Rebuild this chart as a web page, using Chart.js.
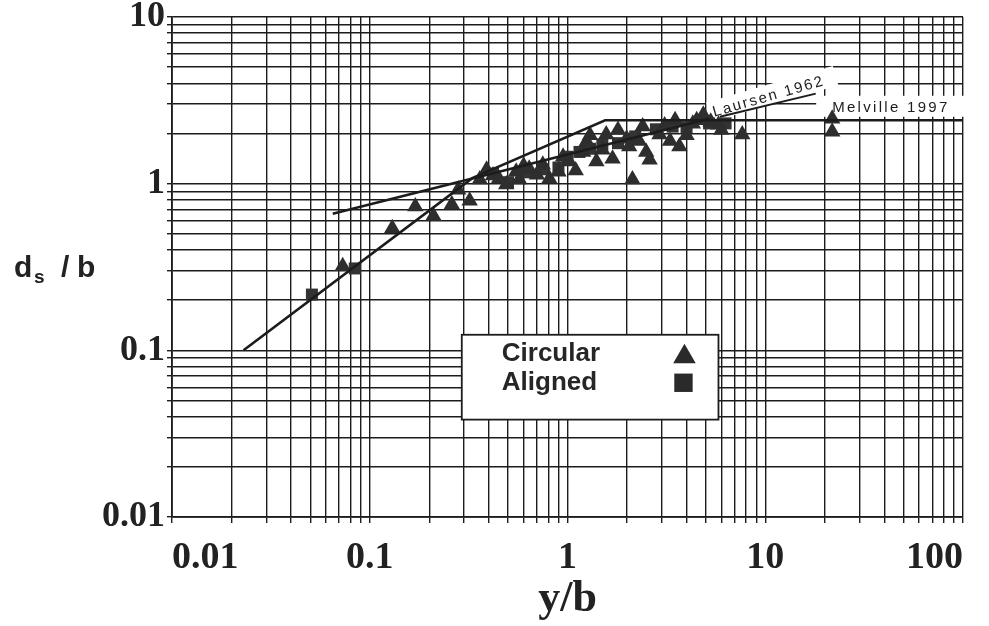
<!DOCTYPE html>
<html>
<head>
<meta charset="utf-8">
<script src="https://cdn.jsdelivr.net/npm/chart.js"></script>
<style>
  html, body { margin: 0; padding: 0; background: #fff; }
  #wrap { width: 989px; height: 626px; }
</style>
</head>
<body>
<div id="wrap"><canvas id="c"></canvas></div>
<script>
// values
const circularX = [0.073, 0.13, 0.17, 0.21, 0.26, 0.32, 0.28, 0.36, 0.39, 0.42, 0.45, 0.49, 0.55, 0.57, 0.6, 0.64, 0.70,
                   0.75, 0.81, 0.9, 0.95, 1.02, 1.1, 1.2, 1.25, 1.3, 1.4, 1.5, 1.57, 1.69, 1.8, 1.99, 2.05, 2.13, 2.3,
                   2.4, 2.5, 2.6, 2.92, 3.1, 3.3, 3.5, 3.68, 4.0, 4.3, 4.5, 4.86, 5.3, 5.8, 6.0, 7.65, 21.8, 21.8];
const circularY = [0.32, 0.54, 0.73, 0.64, 0.75, 0.79, 0.92, 1.06, 1.21, 1.12, 1.07, 0.99, 1.18, 1.06, 1.28, 1.23, 1.13,
                   1.3, 1.07, 1.18, 1.45, 1.36, 1.2, 1.55, 1.79, 1.95, 1.36, 1.6, 1.97, 1.41, 2.1, 1.86, 1.67, 1.06, 1.8,
                   2.2, 1.55, 1.39, 1.97, 2.23, 1.8, 2.4, 1.67, 1.95, 2.29, 2.4, 2.59, 2.35, 2.26, 2.1, 1.97, 2.45, 2.05];
const alignedX = [0.051, 0.084, 0.42, 0.5, 0.62, 0.75, 0.9, 1.0, 1.15, 1.3, 1.5, 1.8, 2.2, 2.8, 3.4, 4.0, 5.2, 6.3];
const alignedY = [0.216, 0.31, 1.15, 1.02, 1.17, 1.22, 1.25, 1.45, 1.55, 1.62, 1.72, 1.75, 1.92, 2.12, 2.2, 2.18, 2.3, 2.3];
const melvilleX = [0.023, 0.33, 1.55, 100];
const melvilleY = [0.1, 1.08, 2.4, 2.4];
const laursenX = [0.065, 5.2];
const laursenY = [0.66, 2.45];
const pointerX = [5.9, 18];
const pointerY = [2.52, 3.47];
const xLabels = [0.01, 0.1, 1, 10, 100];
const yLabels = [0.01, 0.1, 1, 10];

const ink = '#1c1c1c';
const serif = '"Liberation Serif", "Times New Roman", serif';
const sans = '"Liberation Sans", Arial, sans-serif';
const pts = (xs, ys) => xs.map((v, i) => ({ x: v, y: ys[i] }));

// 1..9 x 10^n grid, like printed log paper
function logGrid(min, max) {
  const out = [];
  for (let e = Math.log10(min); e < Math.log10(max); e++) {
    for (let k = 1; k < 10; k++) out.push({ value: k * Math.pow(10, e) });
  }
  out.push({ value: max });
  return out;
}

const overlay = {
  id: 'overlay',
  beforeDatasetsDraw(chart) {
    // white patches under the line labels, as on the scan
    const { ctx, scales: { x, y } } = chart;
    ctx.save();
    ctx.fillStyle = '#fff';
    const mx = x.getPixelForValue(21.8), my = y.getPixelForValue(2.7);
    ctx.fillRect(mx - 16, my - 16, 150, 21);
    ctx.translate(x.getPixelForValue(5.52), y.getPixelForValue(2.52));
    ctx.rotate(-16 * Math.PI / 180);
    ctx.fillRect(-4, -16, 132, 20);
    ctx.restore();
  },
  afterDatasetsDraw(chart) {
    const { ctx, scales: { x, y } } = chart;
    ctx.save();

    // legend box
    const l = x.getPixelForValue(0.292), r = x.getPixelForValue(5.8);
    const t = y.getPixelForValue(0.124), b = y.getPixelForValue(0.0384);
    ctx.fillStyle = '#fff';
    ctx.fillRect(l, t, r - l, b - t);
    ctx.strokeStyle = ink;
    ctx.lineWidth = 1.8;
    ctx.strokeRect(l, t, r - l, b - t);
    ctx.fillStyle = '#262626';
    ctx.font = 'bold 26px ' + sans;
    ctx.textBaseline = 'alphabetic';
    ctx.fillText('Circular', l + 40, t + 26);
    ctx.fillText('Aligned', l + 40, t + 55);
    ctx.fillStyle = '#2a2a2a';
    Chart.helpers.drawPoint(ctx, { pointStyle: 'triangle', radius: 13, rotation: 0, borderWidth: 0 }, r - 34, t + 22);
    Chart.helpers.drawPoint(ctx, { pointStyle: 'rect', radius: 13, rotation: 0, borderWidth: 0 }, r - 35, t + 48);

    // line labels
    ctx.fillStyle = ink;
    ctx.font = '15px ' + sans;
    ctx.letterSpacing = '2.3px';
    ctx.fillText('Melville 1997', x.getPixelForValue(21.8), y.getPixelForValue(2.7));
    ctx.translate(x.getPixelForValue(5.52), y.getPixelForValue(2.52));
    ctx.rotate(-16 * Math.PI / 180);
    ctx.letterSpacing = '2px';
    ctx.fillText('Laursen 1962', 0, 0);
    ctx.restore();

    // y title  d_s / b
    ctx.save();
    ctx.fillStyle = '#222';
    ctx.font = 'bold 30px ' + sans;
    ctx.fillText('d', 14, 277);
    ctx.font = 'bold 19px ' + sans;
    ctx.fillText('s', 34, 283);
    ctx.font = 'bold 30px ' + sans;
    ctx.fillText('/', 61, 277);
    ctx.fillText('b', 77, 277);
    ctx.restore();
  }
};

new Chart(document.getElementById('c'), {
  type: 'scatter',
  data: {
    datasets: [
      {
        label: 'Melville 1997', type: 'line', data: pts(melvilleX, melvilleY),
        borderColor: ink, borderWidth: 2.6, pointRadius: 0, fill: false, tension: 0
      },
      {
        label: 'Laursen 1962', type: 'line', data: pts(laursenX, laursenY),
        borderColor: ink, borderWidth: 2.6, pointRadius: 0, fill: false, tension: 0
      },
      {
        label: 'pointer', type: 'line', data: pts(pointerX, pointerY),
        borderColor: ink, borderWidth: 2, pointRadius: 0, fill: false
      },
      {
        label: 'Circular', data: pts(circularX, circularY),
        pointStyle: 'triangle', pointRadius: 9.5, backgroundColor: '#2e2e2e', borderWidth: 0
      },
      {
        label: 'Aligned', data: pts(alignedX, alignedY),
        pointStyle: 'rect', pointRadius: 8.5, backgroundColor: '#333', borderWidth: 0
      }
    ]
  },
  options: {
    responsive: true,
    maintainAspectRatio: false,
    animation: false,
    layout: { padding: { top: 17, right: 26, left: 0, bottom: 0 } },
    plugins: { legend: { display: false }, tooltip: { enabled: false } },
    scales: {
      x: {
        type: 'logarithmic', min: 0.01, max: 100,
        afterBuildTicks: s => { s.ticks = logGrid(0.01, 100); },
        afterFit: s => { s.height = 109; s.paddingLeft = 0; s.paddingRight = 0; },
        border: { color: ink, width: 1.8 },
        grid: { color: ink, lineWidth: 1.4, tickLength: 6 },
        ticks: {
          autoSkip: false, maxRotation: 0, color: '#222', padding: 12, align: 'inner',
          font: { family: serif, size: 38, weight: 'bold' },
          callback: v => xLabels.includes(v) ? String(v) : ''
        },
        title: {
          display: true, text: 'y/b', color: '#222', padding: { top: 0, bottom: 0 },
          font: { family: serif, size: 44, weight: 'bold' }
        }
      },
      y: {
        type: 'logarithmic', min: 0.01, max: 10,
        afterBuildTicks: s => { s.ticks = logGrid(0.01, 10); },
        afterFit: s => { s.width = 172; s.paddingTop = 0; s.paddingBottom = 0; },
        border: { color: ink, width: 1.8 },
        grid: { color: ink, lineWidth: 1.4, tickLength: 5 },
        ticks: {
          autoSkip: false, color: '#222', padding: 2,
          font: { family: serif, size: 36, weight: 'bold' },
          callback: v => yLabels.includes(v) ? String(v) : ''
        }
      }
    }
  },
  plugins: [overlay]
});
</script>
</body>
</html>
